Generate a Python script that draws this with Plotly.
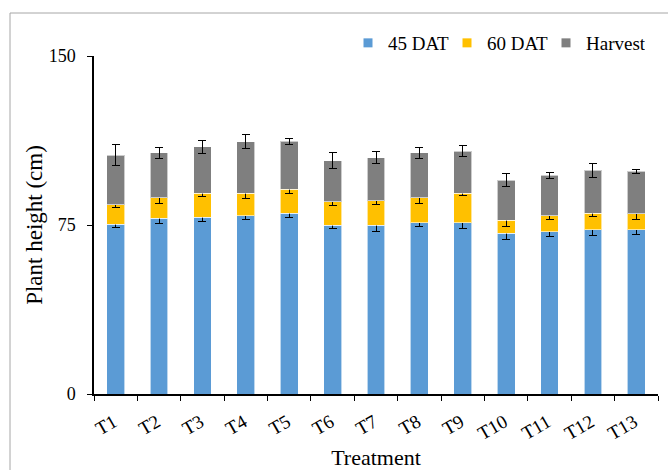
import plotly.graph_objects as go

treatments = ["T1", "T2", "T3", "T4", "T5", "T6", "T7", "T8", "T9", "T10", "T11", "T12", "T13"]

# Increment in plant height (cm) at each stage, stacked
dat45 = [75.3, 77.9, 78.4, 79.1, 80.3, 74.9, 74.9, 76.0, 76.0, 71.3, 72.0, 73.0, 73.0]
dat60 = [8.6, 9.2, 10.6, 9.9, 10.5, 10.4, 10.8, 11.1, 13.0, 5.9, 7.1, 7.3, 7.0]
harvest = [22.1, 19.9, 20.7, 23.0, 21.3, 18.3, 19.1, 19.9, 18.8, 17.7, 17.9, 18.9, 18.8]

# Standard errors
err45 = [1.2, 2.4, 1.9, 1.8, 2.1, 1.6, 2.8, 1.7, 2.7, 2.9, 2.3, 2.5, 2.3]
err60 = [1.3, 2.7, 1.2, 2.4, 1.9, 1.8, 1.6, 2.7, 0.8, 2.8, 1.8, 1.5, 2.7]
errh = [4.7, 2.4, 2.8, 3.0, 1.5, 3.5, 2.6, 2.4, 2.4, 2.9, 1.5, 2.9, 1.0]

series = [
    ("45 DAT", dat45, err45, "#5B9BD5"),
    ("60 DAT", dat60, err60, "#FFC000"),
    ("Harvest", harvest, errh, "#7F7F7F"),
]

SERIF = "Liberation Serif"

fig = go.Figure()
for name, vals, errs, color in series:
    fig.add_trace(go.Bar(
        x=treatments,
        y=vals,
        name=name,
        showlegend=False,
        marker=dict(color=color, line=dict(color="rgba(255,255,255,0.6)", width=1)),
        error_y=dict(type="data", array=errs, visible=True,
                     color="black", thickness=1, width=4),
    ))
    # small square key for the legend
    fig.add_trace(go.Scatter(
        x=[None], y=[None], name=name, mode="markers",
        marker=dict(symbol="square", size=9, color=color),
        showlegend=True,
    ))

fig.update_layout(
    barmode="stack",
    bargap=0.59,
    width=668,
    height=470,
    margin=dict(l=94, r=10, t=56, b=76),
    paper_bgcolor="white",
    plot_bgcolor="white",
    font=dict(family=SERIF, size=18, color="black"),
    legend=dict(
        orientation="h",
        x=(388 - 40 - 94) / 564, xanchor="left",
        y=1 + 13 / 338, yanchor="middle",
        font=dict(family=SERIF, size=19),
        itemwidth=30,
        entrywidth=54, entrywidthmode="pixels",
        tracegroupgap=0,
        traceorder="normal",
        bgcolor="rgba(0,0,0,0)",
    ),
    xaxis=dict(
        title=dict(text="Treatment", font=dict(family=SERIF, size=22), standoff=14),
        automargin=False,
        showline=True, linecolor="black", linewidth=1.5,
        ticks="outside", tickson="boundaries", ticklen=5, tickcolor="black",
        tickangle=-30,
        ticklabelstandoff=8, ticklabelshift=-2,
        tickfont=dict(family=SERIF, size=19),
    ),
    yaxis=dict(
        title=dict(text="Plant height (cm)", font=dict(family=SERIF, size=23), standoff=0),
        automargin=False,
        range=[0, 150],
        tickvals=[0, 75, 150],
        showline=True, linecolor="black", linewidth=1.5,
        ticks="outside", ticklen=5, tickcolor="black",
        ticklabelstandoff=8,
        showgrid=False, zeroline=False,
        tickfont=dict(family=SERIF, size=18),
    ),
    shapes=[
        # chart-area frame (top and left edges)
        dict(type="line", xref="paper", yref="paper",
             x0=-84 / 564, x1=1.1, y0=1 + 43 / 338, y1=1 + 43 / 338,
             line=dict(color="#A6A6A6", width=1)),
        dict(type="line", xref="paper", yref="paper",
             x0=-84 / 564, x1=-84 / 564, y0=-0.3, y1=1 + 43 / 338,
             line=dict(color="#A6A6A6", width=1)),
    ],
)

fig.write_html("out.html")
